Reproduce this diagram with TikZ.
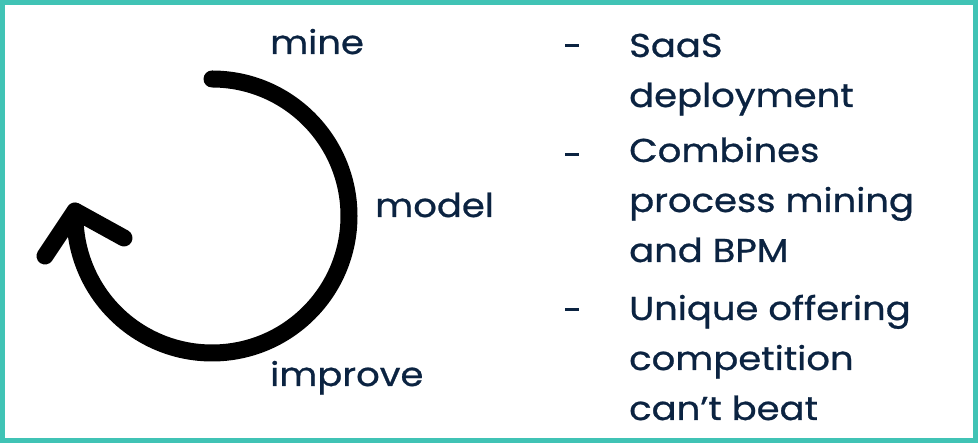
\documentclass[tikz,border=0pt]{standalone}
\usepackage{fontspec}
\setmainfont{Poppins}[FakeStretch=1.12,FakeBold=0.8]
\definecolor{frameteal}{HTML}{40C3B5}
\definecolor{inknavy}{HTML}{0B2341}
\begin{document}
\begin{tikzpicture}[x=1pt,y=1pt,
  label/.style={inner sep=0pt,anchor=base west,text=inknavy,font=\fontsize{33}{40}\selectfont},
  bullet/.style={label},
  dashmark/.style={draw=inknavy,line width=3pt},
  cycle/.style={draw=black,line width=17pt,line cap=round,line join=round}]
\useasboundingbox (0,0) rectangle (978,443);
% frame
\draw[frameteal,line width=5pt] (2.5,2.5) rectangle (975.5,440.5);
% cycle arrow
\coordinate (c) at (212,227);
\draw[cycle] (212,364) arc[start angle=90,end angle=-182,radius=137];
\coordinate (tip) at (75,232);
\coordinate (armR) at (124,205);
\coordinate (armL) at (45,187);
\draw[cycle] (armR) -- (tip) -- (armL);
% cycle labels
\node[label] (mine) at (270,389) {mine};
\node[label] (model) at (375,226) {model};
\node[label] (improve) at (270,57) {improve};
% bullet list
\draw[dashmark] (565,397) coordinate (d1) -- (579,397);
\draw[dashmark] (565,288) coordinate (d2) -- (579,288);
\draw[dashmark] (565,133) coordinate (d3) -- (579,133);
\node[bullet] (b1a) at (629,386) {SaaS};
\node[bullet] (b1b) at (629,336) {deployment};
\node[bullet] (b2a) at (629,281) {Combines};
\node[bullet] (b2b) at (629,231) {process mining};
\node[bullet] (b2c) at (629,181) {and BPM};
\node[bullet] (b3a) at (629,123) {Unique offering};
\node[bullet] (b3b) at (629,73) {competition};
\node[bullet] (b3c) at (629,23) {can’t beat};
\end{tikzpicture}
\end{document}
